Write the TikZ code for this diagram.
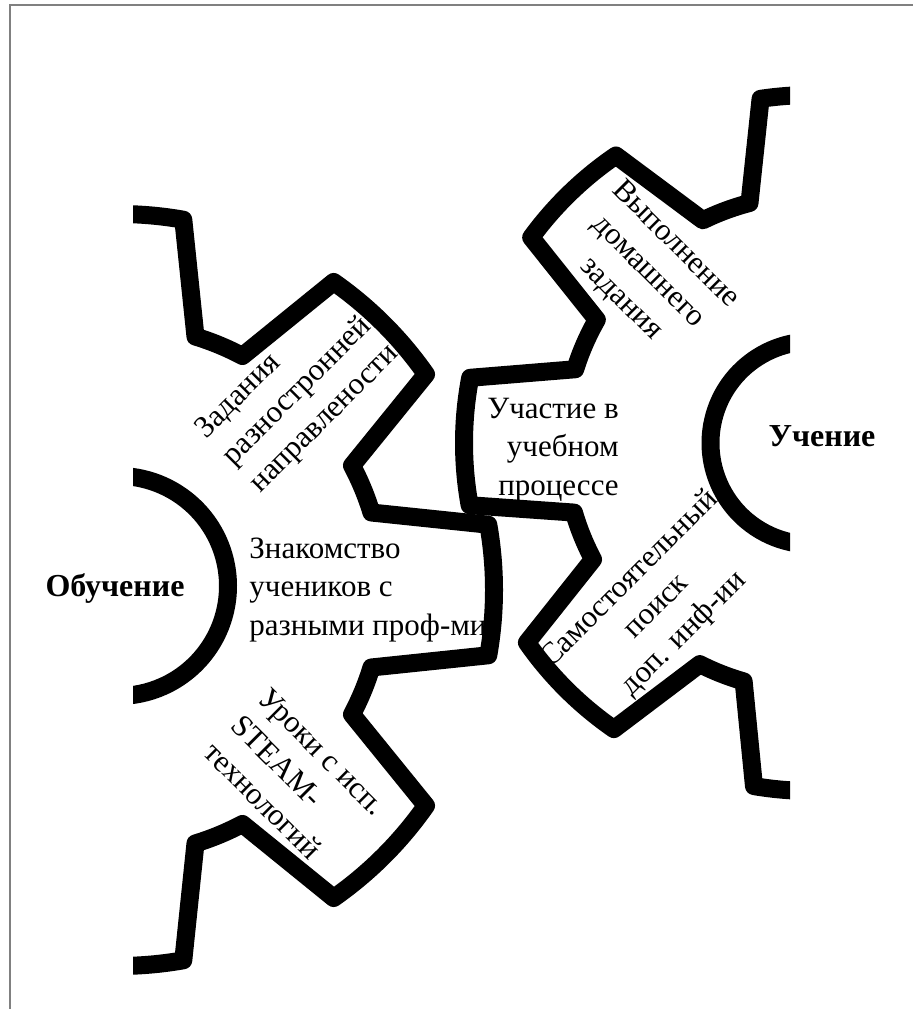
\documentclass[tikz,border=0pt]{standalone}
\usepackage{fontspec}
\setmainfont{Liberation Serif}
\begin{document}
\begin{tikzpicture}[x=1pt,y=1pt,
  gear/.style={line width=18pt, line join=round},
  lbl/.style={font=\fontsize{31}{38.5}\selectfont, inner sep=0pt},
  title/.style={font=\fontsize{32}{38}\selectfont\bfseries, inner sep=0pt}]
\useasboundingbox (0,0) rectangle (913,1009);
\draw[gray, line width=2pt] (10,0) -- (10,1004) -- (913,1004);

% left gear
\coordinate (L) at (118,419);
\coordinate (Lhub) at (118,423);
\begin{scope}
\clip (133,0) rectangle (913,1009);
\begin{scope}[shift={(L)}]
\draw[gear] (100:376pt) arc[start angle=100,end angle=80,radius=376pt]
  -- (73:265pt) arc[start angle=73,end angle=62,radius=265pt]
  -- (55:376pt) arc[start angle=55,end angle=35,radius=376pt]
  -- (28:265pt) arc[start angle=28,end angle=17,radius=265pt]
  -- (10:376pt) arc[start angle=10,end angle=-10,radius=376pt]
  -- (-17:265pt) arc[start angle=-17,end angle=-28,radius=265pt]
  -- (-35:376pt) arc[start angle=-35,end angle=-55,radius=376pt]
  -- (-62:265pt) arc[start angle=-62,end angle=-73,radius=265pt]
  -- (-80:376pt) arc[start angle=-80,end angle=-100,radius=376pt];
\end{scope}
\begin{scope}[shift={(Lhub)}]
\draw[gear] (100:110pt) arc[start angle=100,end angle=-100,radius=110pt];
\end{scope}
\end{scope}

% right gear
\coordinate (R) at (812,566);
\begin{scope}
\clip (0,0) rectangle (790,1009);
\begin{scope}[shift={(R)}]
\draw[gear] (80:348pt) arc[start angle=80,end angle=98.5,radius=348pt]
  -- (104.6:248pt) arc[start angle=104.6,end angle=116.1,radius=248pt]
  -- (124.3:348pt) arc[start angle=124.3,end angle=143.8,radius=348pt]
  -- (150.2:248pt) arc[start angle=150.2,end angle=162.7,radius=248pt]
  -- (169.2:348pt) arc[start angle=169.2,end angle=190.3,radius=348pt]
  -- (196.3:248pt) arc[start angle=196.3,end angle=208,radius=248pt]
  -- (215:348pt) arc[start angle=215,end angle=235.3,radius=348pt]
  -- (243.1:248pt) arc[start angle=243.1,end angle=254,radius=248pt]
  -- (260.4:348pt) arc[start angle=260.4,end angle=280,radius=348pt];
\draw[gear] (80:101.5pt) arc[start angle=80,end angle=280,radius=101.5pt];
\end{scope}
\end{scope}

\node[title,anchor=base] (obuch) at (115,412) {Обучение};
\node[title,anchor=base] (uch) at (822,562) {Учение};
\node[lbl,align=left] (t1) at (368,419) {Знакомство\\учеников с\\разными проф-ми};
\node[lbl,align=right] (t2) at (553,559) {Участие в\\учебном\\процессе};
\node[lbl,align=left,rotate=45] (t3) at (298,617) {Задания\\разностронней\\направлености};
\node[lbl,align=center,rotate=-45] (t4) at (648,737) {Выполнение\\домашнего\\задания};
\node[lbl,align=center,rotate=45] (t5) at (657,402) {Самостоятельный\\поиск\\доп. инф-ии};
\node[lbl,align=left,rotate=-45] (t6) at (295,230) {Уроки с исп.\\STEAM-\\технологий};
\end{tikzpicture}
\end{document}
